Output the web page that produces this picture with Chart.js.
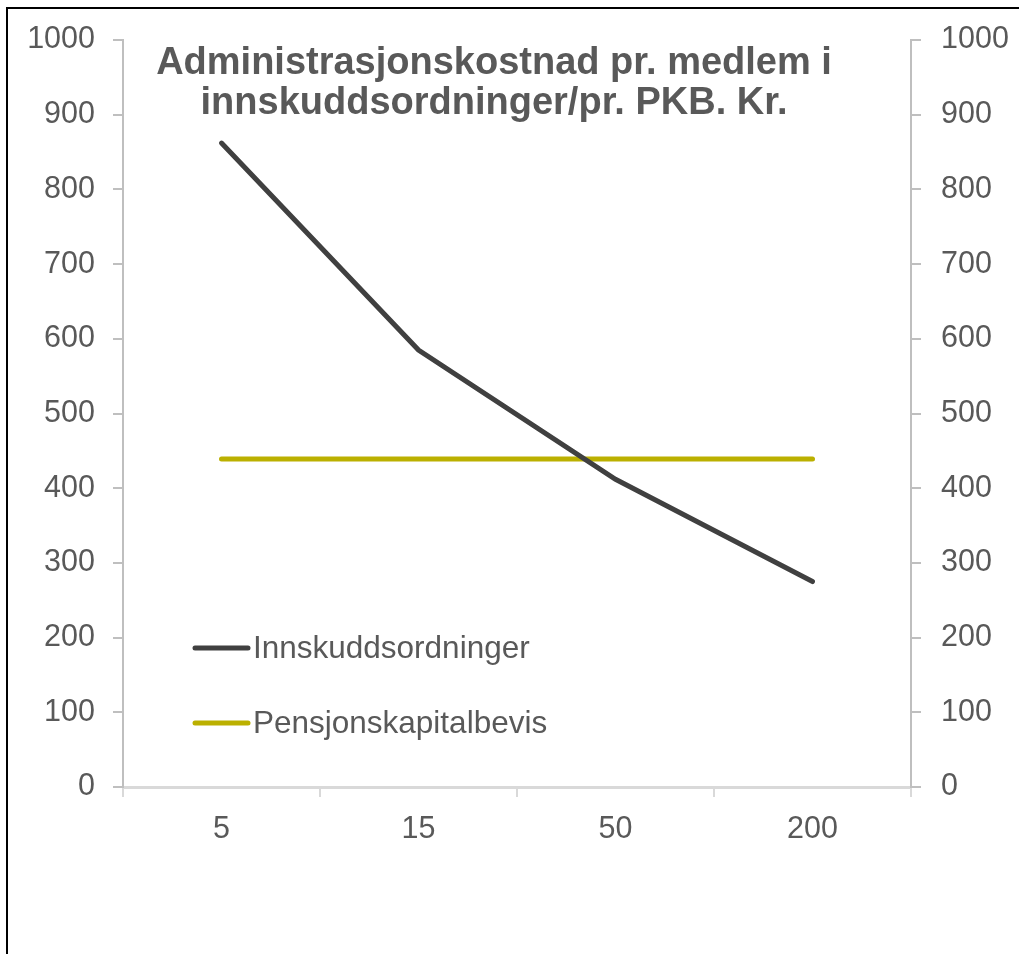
<!DOCTYPE html>
<html>
<head>
<meta charset="utf-8">
<script src="https://cdn.jsdelivr.net/npm/chart.js@4"></script>
<style>
  html, body { margin: 0; padding: 0; background: #fff; }
  #wrap { width: 1019px; height: 954px; position: relative; }
</style>
</head>
<body>
<div id="wrap"><canvas id="chart"></canvas></div>
<script>
// data
const categories = ['5', '15', '50', '200'];
const innskudd = [862, 585, 412, 275];
const pensjon = [439, 439, 439, 439];
const seriesNames = ['Innskuddsordninger', 'Pensjonskapitalbevis'];
const titleLines = ['Administrasjonskostnad pr. medlem i', 'innskuddsordninger/pr. PKB. Kr.'];

const textColor = '#595959';
const axisGrey = '#bfbfbf';
const fontFamily = 'Arial, "Liberation Sans", sans-serif';

// title, legend and outer frame drawn on top of the chart
const overlay = {
    id: 'overlay',
    afterDraw(chart) {
        const ctx = chart.ctx;
        const area = chart.chartArea;
        ctx.save();

        // frame
        ctx.strokeStyle = '#000';
        ctx.lineWidth = 2;
        ctx.strokeRect(7, 8, 1200, 1200);

        // title
        ctx.fillStyle = textColor;
        ctx.font = 'bold 38px ' + fontFamily;
        ctx.textAlign = 'center';
        ctx.textBaseline = 'alphabetic';
        const cx = (area.left + area.right) / 2 - 23;
        titleLines.forEach((t, i) => ctx.fillText(t, cx, area.top + 34 + i * 40));

        // legend
        ctx.font = '31.5px ' + fontFamily;
        ctx.textAlign = 'left';
        ctx.textBaseline = 'middle';
        chart.data.datasets.forEach((ds, i) => {
            const y = area.top + 608 + i * 75;
            const x = area.left + 72;
            ctx.strokeStyle = ds.borderColor;
            ctx.lineWidth = 5;
            ctx.lineCap = 'round';
            ctx.beginPath();
            ctx.moveTo(x, y);
            ctx.lineTo(x + 53, y);
            ctx.stroke();
            ctx.fillStyle = textColor;
            ctx.fillText(ds.label, x + 58, y + 1);
        });
        ctx.restore();
    }
};

const tickFont = { size: 30.5, family: fontFamily };

new Chart(document.getElementById('chart'), {
    type: 'line',
    data: {
        labels: categories,
        datasets: [
            {
                label: seriesNames[0],
                data: innskudd,
                borderColor: '#404040',
                borderWidth: 5,
                borderCapStyle: 'round',
                pointRadius: 0,
                tension: 0,
                yAxisID: 'y'
            },
            {
                label: seriesNames[1],
                data: pensjon,
                borderColor: '#bbb000',
                borderWidth: 5,
                borderCapStyle: 'round',
                pointRadius: 0,
                tension: 0,
                yAxisID: 'y'
            }
        ]
    },
    options: {
        responsive: true,
        maintainAspectRatio: false,
        animation: false,
        layout: { padding: { top: 40, left: 0, right: 0, bottom: 0 } },
        plugins: {
            legend: { display: false },
            tooltip: { enabled: false }
        },
        scales: {
            x: {
                offset: true,
                grid: {
                    offset: true,
                    drawOnChartArea: false,
                    color: '#d9d9d9',
                    lineWidth: 2,
                    tickLength: 10
                },
                border: { color: '#d9d9d9', width: 3 },
                ticks: {
                    color: textColor,
                    font: tickFont,
                    padding: 14,
                    maxRotation: 0
                },
                afterFit(scale) { scale.height = 167; }
            },
            y: {
                position: 'left',
                min: 0,
                max: 1000,
                grid: { drawOnChartArea: false, color: axisGrey, lineWidth: 2, tickLength: 10 },
                border: { color: axisGrey, width: 2 },
                ticks: {
                    stepSize: 100,
                    color: textColor,
                    font: tickFont,
                    padding: 18,
                    callback: (v) => String(v)
                },
                afterFit(scale) { scale.width = 123; }
            },
            y2: {
                position: 'right',
                min: 0,
                max: 1000,
                grid: { drawOnChartArea: false, color: axisGrey, lineWidth: 2, tickLength: 10 },
                border: { color: axisGrey, width: 2 },
                ticks: {
                    stepSize: 100,
                    color: textColor,
                    font: tickFont,
                    padding: 20,
                    callback: (v) => String(v)
                },
                afterFit(scale) { scale.width = 108; }
            }
        }
    },
    plugins: [overlay]
});
</script>
</body>
</html>
